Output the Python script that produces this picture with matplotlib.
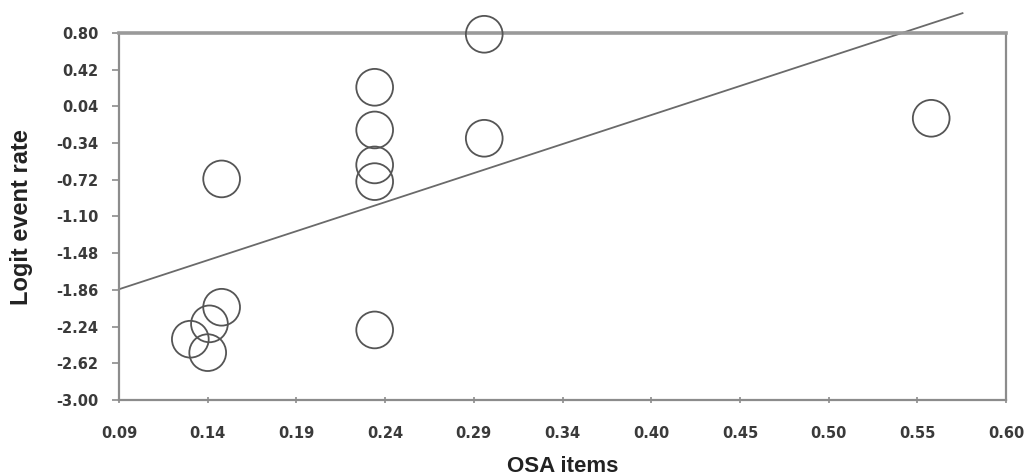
import matplotlib
matplotlib.use("Agg")
import matplotlib.pyplot as plt
import numpy as np

# Study-level data: proportion of OSA items vs. logit event rate
osa_items = [0.557, 0.300, 0.300, 0.237, 0.237, 0.237, 0.237, 0.237,
             0.149, 0.149, 0.142, 0.131, 0.141]
logit_rate = [-0.083, 0.787, -0.29, 0.238, -0.204, -0.566, -0.739, -2.275,
              -0.711, -2.04, -2.212, -2.371, -2.51]

# Meta-regression fit
intercept = -2.384
slope = 5.895
fit_x = [0.09, 0.575]

x_ticks = np.linspace(0.09, 0.60, 11)
x_tick_labels = ["0.09", "0.14", "0.19", "0.24", "0.29", "0.34",
                 "0.40", "0.45", "0.50", "0.55", "0.60"]
y_ticks = np.linspace(-3.00, 0.80, 11)
y_tick_labels = ["-3.00", "-2.62", "-2.24", "-1.86", "-1.48", "-1.10",
                 "-0.72", "-0.34", "0.04", "0.42", "0.80"]

plt.rcParams["font.family"] = ["Liberation Sans", "DejaVu Sans"]

fig = plt.figure(figsize=(10.26, 4.75), dpi=100)
ax = fig.add_axes([0.116, 0.158, 0.8645, 0.7725])

ax.set_xlim(0.09, 0.60)
ax.set_ylim(-3.00, 0.80)

fx = np.array(fit_x)
ax.plot(fx, intercept + slope * fx, color="#6a6a6a", lw=1.3, clip_on=False, zorder=2)

ax.scatter(osa_items, logit_rate, s=700, facecolors="none", edgecolors="#555555",
           linewidths=1.3, clip_on=False, zorder=3)

ax.set_xticks(x_ticks)
ax.set_xticklabels(x_tick_labels)
ax.set_yticks(y_ticks)
ax.set_yticklabels(y_tick_labels)

for lab in ax.get_xticklabels() + ax.get_yticklabels():
    lab.set_family("DejaVu Sans")
    lab.set_fontweight("bold")
    lab.set_fontsize(10.5)
    lab.set_color("#3a3a3a")

ax.tick_params(axis="y", direction="out", length=5, width=1.2, color="#8c8c8c", pad=10)
ax.tick_params(axis="x", direction="inout", length=4, width=1.2, color="#8c8c8c", pad=17)

for side, sp in ax.spines.items():
    sp.set_color("#8c8c8c")
    sp.set_linewidth(1.6)
ax.spines["top"].set_linewidth(2.6)
ax.spines["top"].set_color("#9a9a9a")

fig.text(0.0205, 0.544, "Logit event rate", rotation=90, ha="center", va="center",
         fontsize=17, fontweight="bold", color="#222222")
fig.text(0.548, 0.018, "OSA items", ha="center", va="center",
         fontsize=16, fontweight="bold", color="#222222")

fig.savefig("out.png", dpi=100, facecolor="white")
